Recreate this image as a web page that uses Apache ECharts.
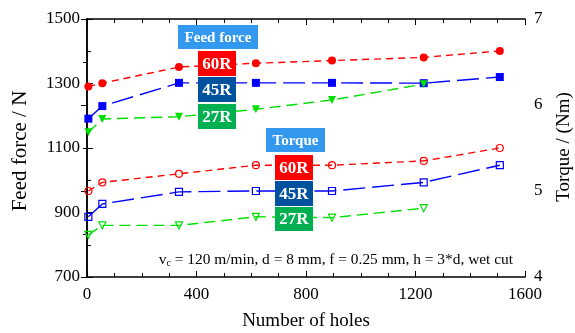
<!DOCTYPE html>
<html>
<head>
<meta charset="utf-8">
<script src="https://cdn.jsdelivr.net/npm/echarts@6/dist/echarts.min.js"></script>
<style>
html,body{margin:0;padding:0;background:#fff;}
#chart{width:575px;height:333px;}
</style>
</head>
<body>
<div id="chart"></div>
<script>
// ---- data ----
const holes = [5, 56, 336, 617, 895, 1230, 1508];
const feed60R = [1291, 1301, 1351, 1363, 1371, 1381, 1401];
const feed45R = [1191, 1230, 1302, 1302, 1302, 1301, 1320];
const feed27R = [1149, 1190, 1197, 1220, 1249, 1298];
const torque60R = [5.00, 5.10, 5.20, 5.30, 5.30, 5.35, 5.50];
const torque45R = [4.70, 4.85, 4.99, 5.00, 5.00, 5.10, 5.30];
const torque27R = [4.49, 4.60, 4.60, 4.70, 4.69, 4.80];
const xTicks = {min: 0, max: 1600, interval: 400};
const leftTicks = {min: 700, max: 1500, interval: 200};
const rightTicks = {min: 4, max: 7, interval: 1};

const pair = (xs, ys) => ys.map((v, i) => [xs[i], v]);

const FONT = '"Liberation Serif", "Times New Roman", serif';
const RED = '#ff0000', BLUE = '#0000ff', GREEN = '#00e000';

const chart = echarts.init(document.getElementById('chart'), null, {renderer: 'canvas'});

const plain = v => String(v);

function axisCommon() {
  return {
    axisLine: {show: true, lineStyle: {color: '#000', width: 1.5}},
    axisTick: {show: true, inside: true, length: 6, lineStyle: {color: '#000', width: 1}},
    splitLine: {show: false}
  };
}

function mkSeries(name, data, color, symbol, rot, dash, yIdx, hollowMarker) {
  return {
    name, type: 'line', data, xAxisIndex: 0, yAxisIndex: yIdx,
    symbol, symbolRotate: rot, symbolSize: hollowMarker ? 7 : 8,
    showAllSymbol: true,
    lineStyle: {color, width: 1.4, type: dash},
    itemStyle: hollowMarker
      ? {color: 'rgba(0,0,0,0)', borderColor: color, borderWidth: 1.2}
      : {color, borderWidth: 0},
    emphasis: {disabled: true},
    z: 3, animation: false
  };
}

function labelBox(x, y, w, h, text, fill, fs) {
  return {
    type: 'group', left: x, top: y, z: 100, zlevel: 1,
    children: [
      {type: 'rect', shape: {x: 0, y: 0, width: w, height: h}, style: {fill}, zlevel: 1, z: 100},
      {type: 'text', x: w / 2, y: h / 2 + 1, zlevel: 1, z: 101, style: {text, fill: '#fff', font: 'bold ' + fs + 'px ' + FONT, textAlign: 'center', textVerticalAlign: 'middle'}}
    ]
  };
}

const option = {
  animation: false,
  backgroundColor: '#fff',
  grid: {left: 87, right: 50, top: 19, bottom: 56, containLabel: false},
  xAxis: [
    Object.assign(axisCommon(), {type: 'value', position: 'bottom', min: xTicks.min, max: xTicks.max, interval: xTicks.interval,
      minorTick: {show: true, splitNumber: 4, length: 4, lineStyle: {color: '#000'}},
      axisLabel: {fontFamily: FONT, fontSize: 17, color: '#000', margin: 9, formatter: plain}}),
    Object.assign(axisCommon(), {type: 'value', position: 'top', min: xTicks.min, max: xTicks.max, interval: xTicks.interval,
      minorTick: {show: true, splitNumber: 4, length: 4, lineStyle: {color: '#000'}},
      axisLabel: {show: false}})
  ],
  yAxis: [
    Object.assign(axisCommon(), {type: 'value', position: 'left', min: leftTicks.min, max: leftTicks.max, interval: leftTicks.interval,
      minorTick: {show: true, splitNumber: 2, length: 4, lineStyle: {color: '#000'}},
      axisLabel: {fontFamily: FONT, fontSize: 17, color: '#000', margin: 7, formatter: plain}}),
    Object.assign(axisCommon(), {type: 'value', position: 'right', min: rightTicks.min, max: rightTicks.max, interval: rightTicks.interval,
      minorTick: {show: true, splitNumber: 2, length: 4, lineStyle: {color: '#000'}},
      axisLabel: {fontFamily: FONT, fontSize: 17, color: '#000', margin: 9, formatter: plain}})
  ],
  series: [
    mkSeries('Feed 60R', pair(holes, feed60R), RED, 'circle', 0, [7, 5], 0, false),
    mkSeries('Feed 45R', pair(holes, feed45R), BLUE, 'rect', 0, [22, 7], 0, false),
    mkSeries('Feed 27R', pair(holes, feed27R), GREEN, 'triangle', 180, [11, 6], 0, false),
    mkSeries('Torque 60R', pair(holes, torque60R), RED, 'circle', 0, [7, 5], 1, true),
    mkSeries('Torque 45R', pair(holes, torque45R), BLUE, 'rect', 0, [22, 7], 1, true),
    mkSeries('Torque 27R', pair(holes, torque27R), GREEN, 'triangle', 180, [11, 6], 1, true)
  ],
  graphic: [
    labelBox(178, 25, 80, 24, 'Feed force', '#3399ee', 15),
    labelBox(198, 51, 38, 25, '60R', '#ff0000', 17),
    labelBox(198, 77, 38, 25, '45R', '#00529e', 17),
    labelBox(198, 104, 38, 25, '27R', '#00b050', 17),
    labelBox(266, 128, 59, 24, 'Torque', '#3399ee', 15),
    labelBox(275, 155, 38, 25, '60R', '#ff0000', 17),
    labelBox(275, 181, 38, 25, '45R', '#00529e', 17),
    labelBox(275, 207, 38, 24, '27R', '#00b050', 17),
    {type: 'text', right: 62, top: 252, z: 10,
      style: {rich: {n: {fontFamily: FONT, fontSize: 15.4, fill: '#000'}, s: {fontFamily: FONT, fontSize: 10, fill: '#000', padding: [7, 0, 0, 0]}},
        text: '{n|v}{s|c}{n| = 120 m/min, d = 8 mm, f = 0.25 mm, h = 3*d, wet cut}'}},
    {type: 'text', x: 306, y: 321, z: 10,
      style: {text: 'Number of holes', font: '19px ' + FONT, fill: '#000', textAlign: 'center', textVerticalAlign: 'middle'}},
    {type: 'text', x: 20, y: 151, rotation: Math.PI / 2, z: 10,
      style: {text: 'Feed force / N', font: '21px ' + FONT, fill: '#000', textAlign: 'center', textVerticalAlign: 'middle'}},
    {type: 'text', x: 564, y: 147, rotation: Math.PI / 2, z: 10,
      style: {text: 'Torque / (Nm)', font: '19px ' + FONT, fill: '#000', textAlign: 'center', textVerticalAlign: 'middle'}}
  ]
};
chart.setOption(option);
</script>
</body>
</html>
